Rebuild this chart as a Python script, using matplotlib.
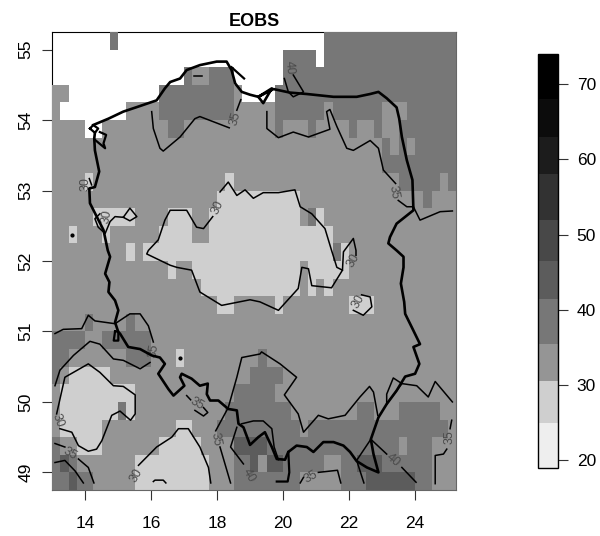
import re
import numpy as np
import matplotlib
matplotlib.use("Agg")
import matplotlib.pyplot as plt
from matplotlib.colors import ListedColormap, BoundaryNorm

plt.rcParams['font.family'] = ['Liberation Sans', 'DejaVu Sans']

# grid, 0.25 deg cells, rows from north to south, run lengths of w/l/m/d/v
lon_edges = np.arange(13, 25.26, 0.25)
lat_edges = np.arange(55.25, 48.74, -0.25)
rows = [
    "7w 1d 25w 16d",
    "28w 4d 1w 16d",
    "16w 1d 2m 3d 6w 21d",
    "2m 11w 9d 1m 4w 22d",
    "1m 8w 4m 9d 5m 6d 1m 6d 3m 6d",
    "4m 2w 8m 2d 11m 1d 3m 1d 4m 1d 2m 1d 2m 7d",
    "40m 1d 1m 1d 1m 5d",
    "40m 9d",
    "4m 1l 16m 1l 20m 5d 1m 1d",
    "20m 10l 15m 1d 3m",
    "5m 5l 4m 3l 2m 11l 1m 1d 1l 16m",
    "2m 1l 3m 1l 6m 4l 2m 15l 15m",
    "9m 1l 1m 23l 1d 1l 13m",
    "14m 1l 2m 13l 1m 5l 13m",
    "18m 12l 1m 1l 1m 1l 15m",
    "20m 2l 5m 1l 8m 3l 10m",
    "4m 1d 4m 1d 39m",
    "4d 2m 6d 37m",
    "2d 7m 3d 3m 1l 9m 1d 23m",
    "1d 1m 5l 17m 4d 21m",
    "1m 9l 12m 5d 22m",
    "1m 7l 1d 1l 11m 8d 8m 2d 3m 5d 2m",
    "1m 5l 9m 2l 3m 10d 1m 17d 1m",
    "1d 2m 3l 7m 5l 4m 4v 16d 1m 3d 3m",
    "1d 1v 1d 7m 9l 3m 2d 1v 1m 2v 5d 2m 2d 3v 6d 3m",
    "2d 1v 2d 5m 9l 3m 8d 5m 3d 6v 2d 3m",
]
level_value = {"w": np.nan, "l": 27.5, "m": 33, "d": 38.5, "v": 44}

breaks = [19, 25, 30.5, 35.5, 41.5, 46.5, 52, 58, 63, 68, 74]
grays = ["#eeeeee", "#cfcfcf", "#959595", "#777777", "#5c5c5c",
         "#484848", "#323232", "#1c1c1c", "#0c0c0c", "#000000"]
bar_ticks = [20, 30, 40, 50, 60, 70]

border = [
    (14.25, 53.93), (14.71, 54.02), (15.16, 54.12), (15.67, 54.20), (16.17, 54.28), (16.42, 54.45),
    (16.58, 54.54), (16.88, 54.59), (17.08, 54.71), (17.48, 54.78), (17.99, 54.83), (18.29, 54.83),
    (18.44, 54.71), (18.55, 54.52), (18.75, 54.40), (19.00, 54.36), (19.25, 54.33), (19.66, 54.45),
    (19.40, 54.24), (19.25, 54.33), (19.71, 54.44), (20.21, 54.39), (20.72, 54.37), (21.53, 54.33),
    (22.23, 54.33), (22.64, 54.37), (22.89, 54.40), (23.14, 54.31), (23.44, 54.18), (23.52, 54.02),
    (23.60, 53.76), (23.75, 53.43), (23.92, 53.15), (23.95, 52.72), (23.44, 52.53), (23.24, 52.34),
    (23.19, 52.25), (23.44, 52.15), (23.65, 52.06), (23.65, 51.91), (23.57, 51.68), (23.67, 51.42),
    (23.70, 51.25), (23.90, 51.06), (24.15, 50.82), (23.95, 50.78), (24.13, 50.54), (24.00, 50.40),
    (23.70, 50.36), (23.44, 50.16), (23.14, 49.97), (22.89, 49.78), (22.66, 49.47), (22.74, 49.26),
    (22.89, 49.00), (22.54, 49.07), (22.23, 49.16), (22.03, 49.29), (21.83, 49.38), (21.53, 49.43),
    (21.22, 49.43), (20.92, 49.29), (20.72, 49.36), (20.41, 49.38), (20.16, 49.29), (20.06, 49.18),
    (19.81, 49.19), (19.66, 49.36), (19.45, 49.57), (19.25, 49.50), (19.00, 49.39), (18.80, 49.64),
    (18.65, 49.69), (18.60, 49.88), (18.34, 49.90), (18.04, 50.02), (17.79, 50.02), (17.69, 50.11),
    (17.72, 50.26), (17.48, 50.23), (17.23, 50.33), (16.93, 50.40), (16.88, 50.35), (17.01, 50.23),
    (16.68, 50.09), (16.53, 50.18), (16.22, 50.40), (16.42, 50.54), (16.27, 50.63), (16.02, 50.66),
    (15.67, 50.75), (15.31, 50.78), (15.06, 50.97), (15.01, 50.99), (14.91, 51.13), (15.01, 51.30),
    (14.91, 51.44), (14.71, 51.56), (14.74, 51.70), (14.61, 51.82), (14.76, 52.06), (14.69, 52.15),
    (14.56, 52.44), (14.15, 52.82), (14.13, 53.03), (14.30, 53.05), (14.43, 53.27), (14.30, 53.57),
    (14.28, 53.74), (14.30, 53.82),
]
border_bits = [
    [(18.44, 54.75), (18.82, 54.59)],
    [(14.30, 53.72), (14.61, 53.60), (14.56, 53.67), (14.64, 53.79), (14.45, 53.83)],
    [(14.15, 53.88), (14.25, 53.93), (14.40, 53.88), (14.30, 53.82), (14.15, 53.88)],
    [(14.91, 51.00), (14.87, 50.87), (15.01, 50.87), (15.01, 51.00), (14.91, 51.00)],
    [(19.81, 48.87), (20.14, 48.87), (20.19, 49.00), (20.16, 49.29)],
]

contours = [
    [(16.02, 54.12), (16.07, 53.88), (16.27, 53.60), (16.37, 53.56), (16.88, 53.76), (17.33, 54.02), (17.48, 54.05), (18.37, 53.89)],
    [(18.60, 54.14), (18.72, 54.29)],
    [(19.51, 54.12), (19.51, 53.88), (19.86, 53.75), (20.31, 53.83), (20.77, 53.76), (21.42, 53.87), (21.32, 54.12), (21.42, 54.15),
     (21.63, 53.91), (21.93, 53.60), (22.13, 53.57), (22.64, 53.71), (22.89, 53.60), (23.04, 53.29), (23.41, 53.10)],
    [(23.49, 52.86), (23.75, 52.77), (23.95, 52.77), (24.15, 52.58), (24.76, 52.70), (25.13, 52.71)],
    [(20.31, 54.64), (20.62, 54.40), (20.31, 54.33), (20.16, 54.40), (20.04, 54.59)],
    [(17.30, 54.62), (17.54, 54.62)],
    [(17.87, 52.63), (17.59, 52.46), (17.38, 52.48), (17.08, 52.72), (16.58, 52.72), (16.42, 52.58), (16.22, 52.30), (15.92, 52.15),
     (15.87, 52.10), (16.58, 51.94), (16.78, 51.91), (17.23, 51.87), (17.48, 51.56), (18.14, 51.37), (19.00, 51.45), (19.30, 51.42),
     (19.86, 51.30), (20.46, 51.61), (20.57, 51.91), (20.77, 51.89), (20.87, 51.65), (21.47, 51.62), (21.80, 51.87), (21.63, 51.91),
     (21.47, 52.15), (21.27, 52.46), (20.87, 52.67), (20.52, 52.77), (20.36, 53.01), (19.86, 52.97), (19.40, 52.97), (19.10, 52.89),
     (18.85, 53.01), (18.60, 52.93), (18.34, 53.12), (18.09, 52.98)],
    [(21.80, 51.87), (21.83, 52.13), (22.13, 52.32), (22.21, 52.15), (22.21, 52.08)],
    [(22.38, 51.52), (22.64, 51.49), (22.69, 51.35), (22.43, 51.23), (22.13, 51.30)],
    [(13.09, 50.97), (13.34, 51.03), (13.90, 51.04), (14.10, 51.23), (14.30, 51.15), (14.91, 51.11), (15.36, 51.25), (15.67, 51.25),
     (15.92, 51.08), (16.07, 50.85)],
    [(13.09, 50.23), (13.24, 50.45), (13.65, 50.66), (14.15, 50.86), (14.45, 50.82), (14.86, 50.61), (15.16, 50.59), (15.67, 50.47), (15.97, 50.56)],
    [(13.14, 49.83), (13.39, 50.35), (14.10, 50.54), (14.45, 50.42), (14.86, 50.23), (15.16, 50.22), (15.52, 50.10), (15.52, 49.83),
     (15.38, 49.74), (15.06, 49.87), (14.81, 49.81), (14.51, 49.45), (14.35, 49.33), (14.10, 49.30), (13.80, 49.38), (13.60, 49.57), (13.24, 49.62)],
    [(17.08, 50.09), (17.20, 50.03)],
    [(17.59, 49.92), (17.72, 49.85), (17.59, 49.80), (17.33, 49.88)],
    [(13.09, 49.41), (13.39, 49.36)],
    [(13.80, 49.19), (14.10, 49.07), (14.27, 48.85)],
    [(13.09, 49.14), (13.39, 49.17), (13.70, 49.02), (13.95, 48.85)],
    [(15.62, 49.10), (16.17, 49.36), (16.63, 49.50), (16.83, 49.62), (17.13, 49.62), (17.48, 49.36), (17.74, 49.07), (17.81, 48.85)],
    [(16.07, 48.87), (16.12, 48.89), (16.37, 48.89), (16.45, 48.85)],
    [(17.96, 49.59), (18.34, 49.92), (18.60, 50.35), (18.75, 50.63), (19.30, 50.68), (19.35, 50.71), (19.91, 50.54), (20.41, 50.35),
     (20.04, 50.10), (20.46, 49.83), (20.62, 49.57), (21.07, 49.81), (21.37, 49.76), (21.88, 49.81), (22.33, 50.07), (22.62, 50.22),
     (22.74, 50.14), (22.87, 49.81)],
    [(23.14, 49.97), (23.14, 50.11), (23.34, 50.34), (23.60, 50.26), (24.05, 50.23), (24.40, 50.07), (24.61, 50.29), (25.13, 50.00)],
    [(23.14, 49.97), (23.60, 50.26)],
    [(22.66, 49.47), (23.14, 49.26)],
    [(23.60, 49.07), (24.03, 48.86)],
    [(22.66, 49.47), (22.23, 49.17), (22.45, 48.85)],
    [(25.11, 49.74), (25.06, 49.62)],
    [(24.96, 49.33), (24.86, 49.26), (24.61, 49.24), (24.61, 48.84)],
    [(20.52, 48.85), (20.62, 48.93)],
    [(21.07, 49.00), (21.65, 49.03), (21.75, 48.85)],
    [(18.09, 49.36), (18.41, 48.85)],
    [(18.60, 49.64), (18.41, 49.36), (18.80, 49.12)],
    [(18.75, 49.69), (19.10, 49.73), (19.40, 49.73), (19.66, 49.62), (19.73, 49.36), (19.86, 49.18)],
    [(14.13, 53.17), (14.20, 53.08)],
    [(14.45, 52.67), (14.30, 52.60), (14.40, 52.48), (14.61, 52.39), (14.76, 52.56), (14.91, 52.63), (15.16, 52.62), (15.36, 52.75),
     (15.57, 52.63), (15.36, 52.57), (15.16, 52.62)],
]

contour_labels = [
    ("35", 18.55, 54.02, 75), ("40", 20.19, 54.75, -85), ("35", 23.34, 52.98, -80), ("30", 18.02, 52.76, 65),
    ("30", 22.13, 52.01, 60), ("30", 22.28, 51.42, 60), ("35", 16.09, 50.73, 80), ("30", 13.17, 49.73, -70),
    ("35", 17.38, 49.97, -30), ("35", 13.55, 49.26, -30), ("30", 15.57, 48.95, 60), ("35", 17.96, 49.47, -80),
    ("40", 18.95, 48.95, -60), ("40", 23.34, 49.17, -40), ("35", 25.04, 49.50, 90), ("35", 20.85, 48.94, 30),
    ("30", 14.02, 53.09, 90), ("30", 14.66, 52.63, 80),
]

grid = []
for r in rows:
    line = []
    for n, ch in re.findall(r"(\d+)([a-z])", r):
        line += [level_value[ch]] * int(n)
    grid.append(line)
grid = np.array(grid)

cmap = ListedColormap(grays)
norm = BoundaryNorm(breaks, cmap.N)

W, H = 600, 536
fig = plt.figure(figsize=(W/100, H/100), dpi=100)
ax = fig.add_axes([52/W, 1-490/H, 404/W, 458/H])
m = ax.pcolormesh(lon_edges, lat_edges, grid, cmap=cmap, norm=norm, zorder=3)
ax.set_xlim(13, 25.24)
ax.set_ylim(48.75, 55.25)

# frame sits under the cells, only shows over the white part
ax.spines["bottom"].set_color("#666666")
ax.spines["right"].set_color("#666666")
ax.spines["bottom"].set_zorder(5)
ax.spines["right"].set_zorder(5)

for c in contours:
    c = np.array(c)
    ax.plot(c[:, 0], c[:, 1], color="black", lw=1.1, zorder=4)
for txt, x, y, rot in contour_labels:
    ax.text(x, y, txt, fontsize=9, color="#4a4a4a", rotation=rot, ha="center", va="center", zorder=4)

b = np.array(border)
ax.plot(b[:, 0], b[:, 1], color="black", lw=1.9, zorder=4)
for bit in border_bits:
    bit = np.array(bit)
    ax.plot(bit[:, 0], bit[:, 1], color="black", lw=1.6, zorder=4)
ax.plot([13.62, 16.88], [52.37, 50.63], "o", color="black", ms=2, zorder=4)

ax.set_title("EOBS", fontsize=13, fontweight="bold", pad=4)
ax.set_xticks([14, 16, 18, 20, 22, 24])
ax.set_yticks([49, 50, 51, 52, 53, 54, 55])
ax.tick_params(length=7.5, width=0.8, labelsize=12.5, color="#333333")
ax.tick_params(axis="x", pad=11)
ax.tick_params(axis="y", pad=6)
plt.setp(ax.get_yticklabels(), rotation=90, va="center")

cax = fig.add_axes([538/W, 1-468/H, 20/W, 414/H])
cb = fig.colorbar(m, cax=cax, ticks=bar_ticks, spacing="proportional")
cb.ax.tick_params(length=7.5, width=0.8, labelsize=12.5, pad=6, color="#333333")
cb.ax.minorticks_off()
cb.outline.set_linewidth(1)

fig.savefig("out.png", dpi=100)
